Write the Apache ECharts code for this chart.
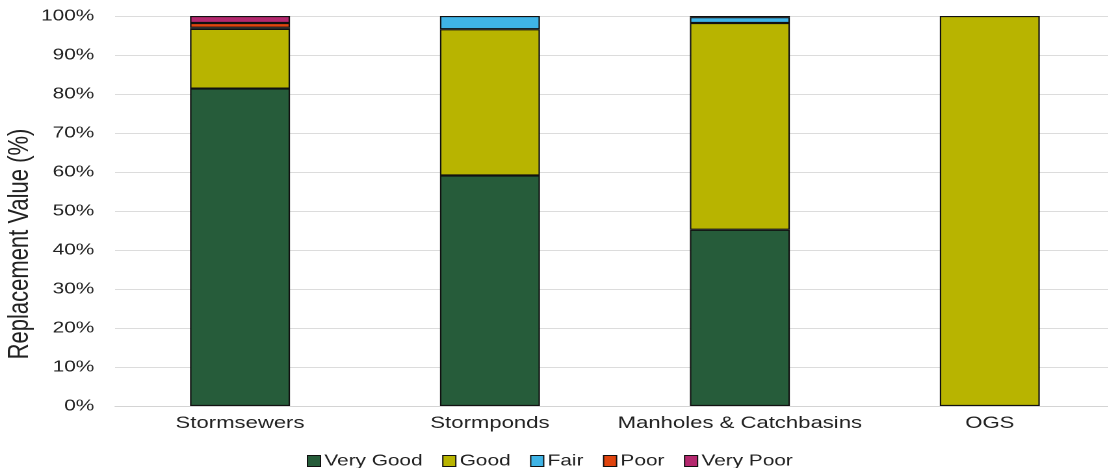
<!DOCTYPE html>
<html>
<head>
<meta charset="utf-8">
<script src="https://cdn.jsdelivr.net/npm/echarts@6/dist/echarts.min.js"></script>
<style>
  html, body { margin: 0; padding: 0; background: #fff; overflow: hidden; }
  #wrap { width: 1108px; height: 468px; overflow: hidden; }
  /* drawn narrow, then widened so the lettering has the wide look of the report */
  #chart { width: 860px; height: 468px; transform: scaleX(1.3); transform-origin: 0 0; }
</style>
</head>
<body>
<div id="wrap"><div id="chart"></div></div>
<script>
// Asset categories
const categories = ['Stormsewers', 'Stormponds', 'Manholes & Catchbasins', 'OGS'];

// Share of replacement value by condition rating (%)
const veryGood = [81.4, 59.1, 45.2, 0];
const good     = [15.3, 37.5, 53.0, 100];
const fair     = [0.3, 3.4, 1.5, 0];
const poor     = [1.2, 0, 0.3, 0];
const veryPoor = [1.8, 0, 0, 0];

const seriesNames = ['Very Good', 'Good', 'Fair', 'Poor', 'Very Poor'];
const seriesData = [veryGood, good, fair, poor, veryPoor];
const colors = ['#265c3a', '#b8b400', '#3fb4e6', '#e0440e', '#b4286e'];

const font = "'Liberation Sans', Arial, sans-serif";

const chart = echarts.init(document.getElementById('chart'), null, { renderer: 'canvas', devicePixelRatio: 2 });

chart.setOption({
  animation: false,
  textStyle: { fontFamily: font },
  grid: { left: 88.5, top: 16, width: 769, height: 390, containLabel: false, outerBoundsMode: 'none' },
  legend: {
    top: 448,
    left: 231,
    itemWidth: 10,
    itemHeight: 11,
    itemGap: 15,
    icon: 'rect',
    textStyle: { fontFamily: font, fontSize: 16, color: '#222', padding: [0, 0, 0, -2] },
    data: seriesNames.map((n, i) => ({
      name: n,
      itemStyle: { color: colors[i], borderColor: '#111', borderWidth: 1 }
    }))
  },
  xAxis: {
    type: 'category',
    data: categories,
    axisLine: { show: true, lineStyle: { color: '#d4d4d4', width: 1 } },
    axisTick: { show: false },
    axisLabel: { interval: 0, fontFamily: font, fontSize: 17, color: '#222', margin: 9 }
  },
  yAxis: {
    type: 'value',
    min: 0,
    max: 100,
    interval: 10,
    name: 'Replacement Value (%)',
    nameLocation: 'middle',
    nameGap: 62,
    nameMoveOverlap: false,
    nameTextStyle: { fontFamily: font, fontSize: 22, color: '#222', padding: [0, 66, 0, 0] },
    axisLine: { show: false },
    axisTick: { show: false },
    splitLine: { lineStyle: { color: '#dcdcdc', width: 1 } },
    axisLabel: { fontFamily: font, fontSize: 16, color: '#222', margin: 16, formatter: '{value}%' }
  },
  series: seriesNames.map((n, i) => ({
    name: n,
    type: 'bar',
    stack: 'total',
    barWidth: '40%',
    itemStyle: { color: colors[i], borderColor: '#111', borderWidth: 1.1 },
    data: seriesData[i].map(v => (v === 0 ? '-' : v))
  }))
});
</script>
</body>
</html>
